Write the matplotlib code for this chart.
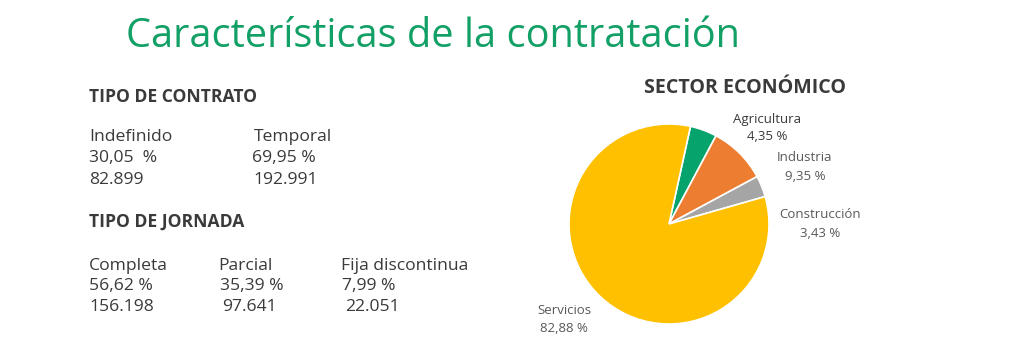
import matplotlib
matplotlib.use("Agg")
import matplotlib.pyplot as plt

# ── Data ──────────────────────────────────────────────────────────────────────
contrato_tipos = ["Indefinido", "Temporal"]
contrato_pct = ["30,05  %", "69,95 %"]
contrato_n = ["82.899", "192.991"]

jornada_tipos = ["Completa", "Parcial", "Fija discontinua"]
jornada_pct = ["56,62 %", "35,39 %", "7,99 %"]
jornada_n = ["156.198", "97.641", "22.051"]

sectores = ["Agricultura", "Industria", "Construcción", "Servicios"]
sector_pct = [4.35, 9.35, 3.43, 82.88]
sector_colors = ["#07a36d", "#ed7d31", "#a5a5a5", "#ffc000"]

# ── Style ─────────────────────────────────────────────────────────────────────
plt.rcParams["font.family"] = ["Open Sans", "DejaVu Sans"]
GREEN = "#12a067"
DARK = "#3a3a3a"
GREY = "#595959"

W, H = 1024, 363
fig = plt.figure(figsize=(W / 100, H / 100), dpi=100, facecolor="white")


def txt(x, y, s, va="center", **kw):
    # pixel coords (top-left origin) -> figure coords
    fig.text(x / W, 1 - y / H, s, va=va, **kw)


txt(126, 47, "Características de la contratación", va="baseline", fontsize=28.6, color=GREEN)

# ── Tipo de contrato ──────────────────────────────────────────────────────────
txt(89, 97, "TIPO DE CONTRATO", fontsize=12.6, fontweight="bold", color=DARK)
cols_c = [(89, 89, 89), (254, 252, 253)]
for (x1, x2, x3), t, p, n in zip(cols_c, contrato_tipos, contrato_pct, contrato_n):
    txt(x1, 137, t, fontsize=12.6, color=DARK)
    txt(x2, 158, p, fontsize=12.6, color=DARK)
    txt(x3, 180, n, fontsize=12.6, color=DARK)

# ── Tipo de jornada ───────────────────────────────────────────────────────────
txt(89, 222, "TIPO DE JORNADA", fontsize=12.6, fontweight="bold", color=DARK)
cols_j = [(89, 89, 89), (218, 220, 222), (341, 342, 345)]
for (x1, x2, x3), t, p, n in zip(cols_j, jornada_tipos, jornada_pct, jornada_n):
    txt(x1, 266, t, fontsize=12.6, color=DARK)
    txt(x2, 286, p, fontsize=12.6, color=DARK)
    txt(x3, 307, n, fontsize=12.6, color=DARK)

# ── Sector económico (pie) ────────────────────────────────────────────────────
txt(745, 88, "SECTOR ECONÓMICO", fontsize=14.1, fontweight="bold", color=DARK, ha="center")

cx, cy, r = 669, 224, 101
ax = fig.add_axes([(cx - r) / W, 1 - (cy + r) / H, 2 * r / W, 2 * r / H])
ax.pie(sector_pct, colors=sector_colors, startangle=77.6, counterclock=False,
       wedgeprops=dict(edgecolor="white", linewidth=1.2))
ax.set_aspect("equal")
ax.set_xlim(-1.01, 1.01)
ax.set_ylim(-1.01, 1.01)
ax.axis("off")

label_pos = [(767, 119), (805, 158), (820, 215), (564, 311)]
for i, ((x, y), name, v) in enumerate(zip(label_pos, sectores, sector_pct)):
    col = DARK if i == 0 else GREY
    txt(x, y, name, fontsize=9.5, color=col, ha="center")
    txt(x, y + 18, f"{v:.2f} %".replace(".", ","), fontsize=9.5, color=col, ha="center")

fig.savefig("out.png", dpi=100, facecolor="white")
